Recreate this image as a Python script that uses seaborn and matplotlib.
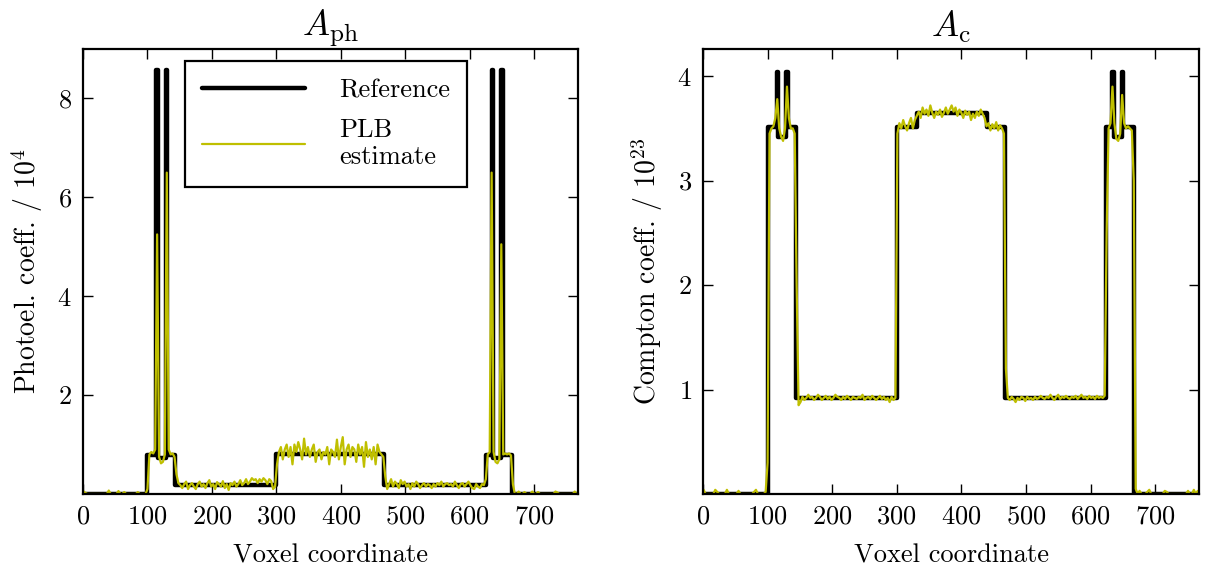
import numpy as np
import matplotlib
matplotlib.use("Agg")
import matplotlib.pyplot as plt
import seaborn as sns

# ---------------- data ----------------
# reference profiles: piecewise-constant (segment edges in voxels, level per segment)
ref_ph_edges = [0, 100, 114, 116, 129, 131, 142, 300, 467, 625, 634, 636, 649, 651, 666, 768]
ref_ph_levels = [0, 0.78, 8.57, 0.72, 8.57, 0.78, 0.18, 0.80, 0.18, 0.78, 8.57, 0.72, 8.57, 0.78, 0]

ref_c_edges = [0, 101, 114, 116, 129, 131, 144, 300, 331, 439, 467, 624, 634, 636, 649, 651, 668, 768]
ref_c_levels = [0, 3.51, 4.04, 3.42, 4.04, 3.51, 0.92, 3.51, 3.65, 3.51, 0.92, 3.51, 4.04, 3.42, 4.04, 3.51, 0]

# PLB estimate, sampled every 3 voxels starting at voxel 1
est_start = 1
est_step = 3
est_ph = [
    0.05, 0.02, 0, 0, 0, 0, 0, 0, 0, 0,                      # 1..28
    0, 0, 0, 0.07, 0, 0, 0, 0, 0.06, 0,                      # 31..58
    0, 0.04, 0, 0, 0, 0, 0, 0, 0.04, 0,                      # 61..88
    0, 0, 0, 0.1, 0.8, 0.85, 0.82, 0.9, 5.25, 0.75,          # 91..118
    0.62, 0.65, 0.8, 6.5, 0.9, 0.8, 0.82, 0.75, 0.4, 0.22,   # 121..148
    0.18, 0.12, 0.2, 0.25, 0.1, 0.18, 0.22, 0.15, 0.1, 0.2,  # 151..178
    0.25, 0.15, 0.2, 0.12, 0.22, 0.28, 0.15, 0.2, 0.1, 0.24, # 181..208
    0.2, 0.15, 0.26, 0.12, 0.2, 0.08, 0.22, 0.18, 0.25, 0.15,# 211..238
    0.2, 0.28, 0.18, 0.22, 0.3, 0.2, 0.25, 0.32, 0.28, 0.3,  # 241..268
    0.22, 0.3, 0.25, 0.32, 0.28, 0.2, 0.3, 0.26, 0.1, 0.15,  # 271..298
    0.6, 0.85, 0.95, 0.7, 0.9, 1.0, 0.75, 0.95, 0.6, 1.0,    # 301..328
    0.85, 1.05, 0.9, 0.7, 1.12, 0.8, 0.95, 0.75, 0.9, 1.0,   # 331..358
    0.65, 0.85, 0.9, 0.7, 0.85, 0.8, 0.95, 0.6, 0.9, 0.85,   # 361..388
    0.75, 1.1, 0.7, 0.95, 1.15, 0.6, 0.9, 1.0, 0.75, 0.95,   # 391..418
    0.9, 0.65, 1.0, 0.8, 0.95, 0.55, 1.05, 0.75, 0.9, 0.7,   # 421..448
    0.95, 0.6, 1.0, 0.85, 0.8, 0.75, 0.35, 0.1, 0.2, 0.3,    # 451..478
    0.15, 0.25, 0.2, 0.12, 0.28, 0.2, 0.25, 0.15, 0.2, 0.1,  # 481..508
    0.22, 0.15, 0.25, 0.2, 0.12, 0.18, 0.22, 0.15, 0.2, 0.18,# 511..538
    0.12, 0.2, 0.15, 0.22, 0.18, 0.25, 0.15, 0.2, 0.22, 0.18,# 541..568
    0.2, 0.15, 0.25, 0.18, 0.12, 0.2, 0.22, 0.15, 0.2, 0.25, # 571..598
    0.18, 0.12, 0.1, 0.2, 0.15, 0.12, 0.2, 0.18, 0.3, 0.8,   # 601..628
    0.85, 6.5, 0.85, 0.65, 0.62, 0.7, 5.05, 0.8, 0.82, 0.8,  # 631..658
    0.82, 0.78, 0.2, 0, 0, 0.05, 0, 0, 0.04, 0,              # 661..688
    0, 0, 0.05, 0, 0, 0.04, 0, 0, 0, 0,                      # 691..718
    0, 0, 0, 0, 0.05, 0.03, 0, 0, 0, 0,                      # 721..748
    0, 0, 0, 0, 0.05, 0,                                     # 751..766
]
est_c = [
    0.04, 0, 0, 0, 0, 0, 0.04, 0.02, 0, 0,                   # 1..28
    0, 0, 0.04, 0, 0, 0, 0, 0, 0.03, 0,                      # 31..58
    0, 0, 0, 0, 0, 0, 0.02, 0.04, 0, 0,                      # 61..88
    0, 0, 0.02, 0.3, 3.45, 3.5, 3.52, 3.6, 3.78, 3.5,        # 91..118
    3.42, 3.38, 3.5, 3.9, 3.6, 3.5, 3.5, 3.45, 2.0, 0.85,    # 121..148
    0.88, 0.93, 0.9, 0.92, 0.95, 0.92, 0.93, 0.9, 0.92, 0.95,# 151..178
    0.93, 0.9, 0.92, 0.94, 0.91, 0.93, 0.9, 0.92, 0.95, 0.93,# 181..208
    0.92, 0.9, 0.93, 0.91, 0.94, 0.92, 0.9, 0.93, 0.92, 0.91,# 211..238
    0.93, 0.92, 0.95, 0.9, 0.92, 0.93, 0.91, 0.94, 0.92, 0.9,# 241..268
    0.92, 0.94, 0.91, 0.93, 0.9, 0.92, 0.88, 0.93, 0.9, 0.92,# 271..298
    3.45, 3.55, 3.5, 3.58, 3.52, 3.48, 3.55, 3.6, 3.5, 3.58, # 301..328
    3.62, 3.66, 3.6, 3.7, 3.64, 3.68, 3.62, 3.72, 3.65, 3.6, # 331..358
    3.66, 3.63, 3.68, 3.61, 3.65, 3.7, 3.64, 3.68, 3.72, 3.66,# 361..388
    3.7, 3.62, 3.68, 3.65, 3.6, 3.67, 3.63, 3.66, 3.58, 3.64,# 391..418
    3.6, 3.66, 3.62, 3.68, 3.64, 3.6, 3.52, 3.55, 3.48, 3.54,# 421..448
    3.5, 3.56, 3.48, 3.53, 3.5, 3.45, 1.2, 0.92, 0.9, 0.93,  # 451..478
    0.91, 0.88, 0.92, 0.9, 0.93, 0.92, 0.89, 0.93, 0.91, 0.92,# 481..508
    0.9, 0.93, 0.91, 0.92, 0.94, 0.92, 0.91, 0.93, 0.92, 0.95,# 511..538
    0.92, 0.9, 0.93, 0.95, 0.91, 0.93, 0.92, 0.94, 0.92, 0.91,# 541..568
    0.93, 0.92, 0.94, 0.91, 0.93, 0.95, 0.92, 0.93, 0.91, 0.94,# 571..598
    0.92, 0.93, 0.91, 0.94, 0.92, 0.93, 0.92, 0.94, 2.5, 3.5,# 601..628
    3.55, 3.9, 3.55, 3.4, 3.38, 3.45, 3.82, 3.55, 3.5, 3.52, # 631..658
    3.5, 3.48, 3.0, 0.05, 0, 0.03, 0, 0, 0, 0.02,            # 661..688
    0.04, 0, 0, 0, 0, 0, 0, 0, 0.03, 0.02,                   # 691..718
    0, 0, 0, 0, 0, 0, 0, 0, 0, 0,                            # 721..748
    0.03, 0, 0, 0.04, 0, 0.03,                               # 751..766
]

x_ticks = [0, 100, 200, 300, 400, 500, 600, 700]
ph_yticks = [2, 4, 6, 8]
c_yticks = [1, 2, 3, 4]
titles = [r"$A_{\mathrm{ph}}$", r"$A_{\mathrm{c}}$"]
ylabels = [r"Photoel. coeff. / $10^{4}$", r"Compton coeff. / $10^{23}$"]
xlabel = "Voxel coordinate"
legend_labels = ["Reference", "PLB\nestimate"]


def ref_line(edges, levels):
    xs = np.repeat(np.asarray(edges, float), 2)[1:-1]
    ys = np.repeat(np.asarray(levels, float), 2)
    return xs, ys


def est_line(vals):
    xs = est_start + est_step * np.arange(len(vals))
    return xs, np.asarray(vals, float)


# ---------------- style ----------------
sns.set_style("ticks")
plt.rcParams.update({
    "font.family": ["cmr10", "DejaVu Serif"],
    "mathtext.fontset": "cm",
    "axes.formatter.use_mathtext": True,
    "axes.unicode_minus": False,
    "xtick.direction": "in",
    "ytick.direction": "in",
    "xtick.top": True,
    "ytick.right": True,
    "xtick.major.size": 7,
    "ytick.major.size": 7,
    "xtick.major.width": 1.0,
    "ytick.major.width": 1.0,
    "xtick.major.pad": 8,
    "ytick.major.pad": 8,
    "axes.linewidth": 1.6,
    "axes.edgecolor": "black",
    "xtick.color": "black",
    "ytick.color": "black",
    "text.color": "black",
    "axes.labelcolor": "black",
})

fig = plt.figure(figsize=(12.1, 5.72), dpi=100)
ax1 = fig.add_axes([83 / 1210, 78 / 572, 495 / 1210, 445 / 572])
ax2 = fig.add_axes([703 / 1210, 78 / 572, 496 / 1210, 445 / 572])

yellow = "#bfbf00"

panels = [
    (ax1, ref_ph_edges, ref_ph_levels, est_ph, (0, 9.0), ph_yticks),
    (ax2, ref_c_edges, ref_c_levels, est_c, (0, 4.26), c_yticks),
]

for i, (ax, edges, levels, est, ylim, yt) in enumerate(panels):
    rx, ry = ref_line(edges, levels)
    ex, ey = est_line(est)
    sns.lineplot(x=rx, y=ry, ax=ax, color="black", linewidth=3.2, sort=False,
                 estimator=None, label=legend_labels[0] if i == 0 else None)
    sns.lineplot(x=ex, y=ey, ax=ax, color=yellow, linewidth=1.6, sort=False,
                 estimator=None, label=legend_labels[1] if i == 0 else None)
    ax.set_xlim(0, 768)
    ax.set_ylim(*ylim)
    ax.set_xticks(x_ticks)
    ax.set_yticks(yt)
    ax.tick_params(labelsize=19)
    ax.set_xlabel(xlabel, fontsize=19, labelpad=11)
    ax.set_ylabel(ylabels[i], fontsize=20, labelpad=9)
    ax.set_title(titles[i], fontsize=26, pad=9)
    for s in ax.spines.values():
        s.set_visible(True)
        s.set_linewidth(1.6)
    leg = ax.get_legend()
    if leg is not None:
        leg.remove()

leg = ax1.legend(loc="upper left", bbox_to_anchor=(0.206, 0.972), fontsize=19,
                 handlelength=3.9, handletextpad=1.3, borderpad=0.65,
                 labelspacing=0.6, borderaxespad=0.0, fancybox=False,
                 framealpha=1.0, edgecolor="black")
leg.get_frame().set_linewidth(1.6)

fig.savefig("out.png", dpi=100)
